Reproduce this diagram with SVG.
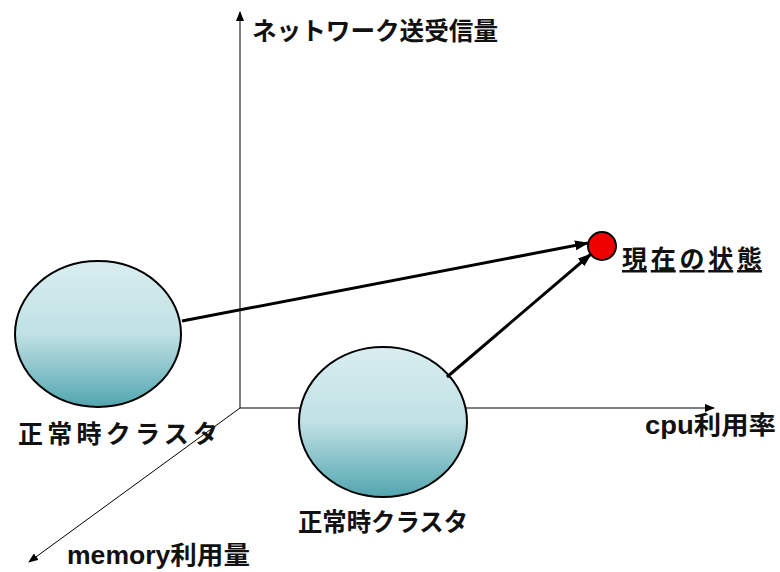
<svg xmlns="http://www.w3.org/2000/svg" width="780" height="572" viewBox="0 0 780 572">
<style>
.t{font-family:"Liberation Sans","Noto Sans CJK JP",sans-serif;font-weight:bold;font-size:25px;fill:#111}
.ax{stroke:#000;stroke-width:1;fill:none}
.cn{stroke:#000;stroke-width:3;fill:none}
.cl{fill:url(#g);stroke:#000;stroke-width:2}
</style>
<defs>
<linearGradient id="g" x1="0" y1="0" x2="0" y2="1">
<stop offset="0" stop-color="#d9edf0"/>
<stop offset="0.5" stop-color="#c0e1e5"/>
<stop offset="1" stop-color="#52a5af"/>
</linearGradient>
<marker id="sa" markerWidth="10" markerHeight="8" refX="9" refY="4" orient="auto" markerUnits="userSpaceOnUse">
<path d="M0,0 L10,4 L0,8 Z" fill="#000"/>
</marker>
<marker id="ba" markerWidth="14" markerHeight="10" refX="13" refY="5" orient="auto" markerUnits="userSpaceOnUse">
<path d="M0,0 L14,5 L0,10 Z" fill="#000"/>
</marker>
</defs>
<g id="axes">
<line class="ax" x1="240" y1="408" x2="240" y2="12" marker-end="url(#sa)"/>
<line class="ax" x1="240" y1="408" x2="714" y2="408" marker-end="url(#sa)"/>
<line class="ax" x1="240" y1="408" x2="29" y2="562" marker-end="url(#sa)"/>
</g>
<g id="cluster1">
<ellipse class="cl" cx="98" cy="334" rx="83" ry="73"/>
<text class="t" x="18" y="443" textLength="200" lengthAdjust="spacing">正常時クラスタ</text>
</g>
<g id="cluster2">
<ellipse class="cl" cx="383" cy="422" rx="84" ry="75"/>
<text class="t" x="298" y="531" textLength="170" lengthAdjust="spacingAndGlyphs">正常時クラスタ</text>
</g>
<g id="current">
<circle cx="602" cy="246" r="14" fill="#ee0000" stroke="#000" stroke-width="2"/>
<text class="t" x="622" y="268" textLength="140" lengthAdjust="spacing" text-decoration="underline">現在の状態</text>
</g>
<g id="connectors">
<line class="cn" x1="182" y1="321" x2="588" y2="243" marker-end="url(#ba)"/>
<line class="cn" x1="447" y1="377" x2="591" y2="254" marker-end="url(#ba)"/>
</g>
<g id="labels">
<text class="t" x="252" y="40" textLength="246" lengthAdjust="spacingAndGlyphs">ネットワーク送受信量</text>
<text class="t" x="645" y="434" textLength="131" lengthAdjust="spacingAndGlyphs">cpu利用率</text>
<text class="t" x="67" y="564" textLength="183" lengthAdjust="spacingAndGlyphs">memory利用量</text>
</g>
</svg>
